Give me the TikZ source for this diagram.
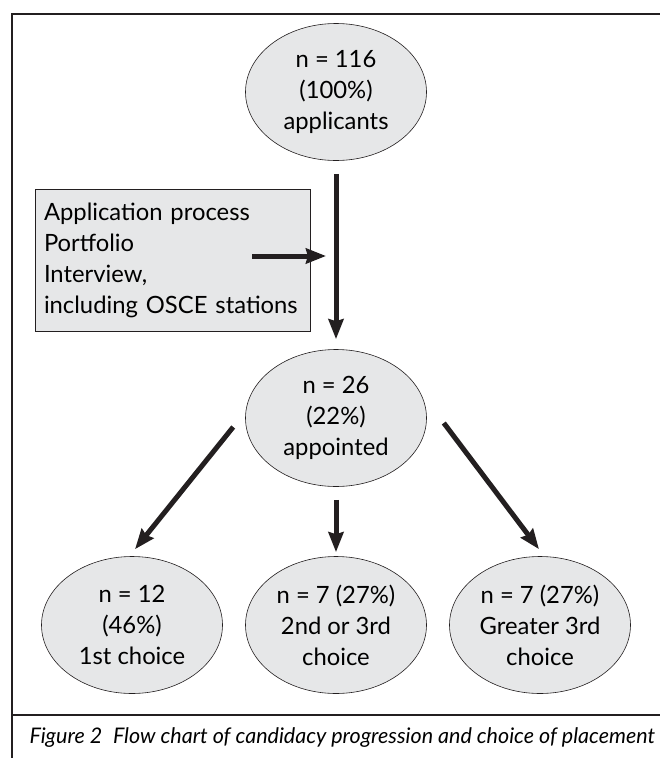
\documentclass[tikz,border=0pt]{standalone}
\usepackage{fontspec}
\setmainfont{Lato}
\usepackage{tikz}
\usetikzlibrary{arrows.meta,positioning,shapes.geometric}
\definecolor{bubble}{HTML}{E6E7E8}
\definecolor{ink}{HTML}{231F20}

\begin{document}
\begin{tikzpicture}[
 x=1pt,y=-1pt,
 font=\fontsize{23.8}{31}\selectfont,
 count/.style={ellipse,draw=ink,line width=0.6pt,fill=bubble,minimum width=181pt,minimum height=137pt,inner xsep=-14pt,inner ysep=0pt,align=center},
 stage/.style={draw=ink,line width=0.8pt,fill=bubble,align=left,text width=257pt,minimum height=142pt,inner xsep=9pt},
 flow/.style={draw=ink,line width=5pt,-{Stealth[length=20pt,width=15pt,inset=2pt]}},
 frame/.style={draw=ink,line width=2pt},
]
\useasboundingbox (0,0) rectangle (660,758);
\draw[frame] (660,14) -- (12,14) -- (12,758);
\draw[ink,line width=1.5pt] (12,715) -- (660,715);
\node[count] (all) at (336,92) {n = 116\\(100\%)\\applicants};
\node[stage] (proc) at (172.5,260) {Application process\\Portfolio\\Interview,\\including OSCE stations};
\node[count] (appt) at (336,418) {n = 26\\(22\%)\\appointed};
\node[count] (first) at (132,625) {n = 12\\(46\%)\\1st choice};
\node[count] (second) at (336,625) {n = 7 (27\%)\\2nd or 3rd\\choice};
\node[count] (third) at (540,625) {n = 7 (27\%)\\Greater 3rd\\choice};
\coordinate (feed) at (252,256);
\draw[flow,shorten <=13pt,shorten >=10pt] (all) -- (appt);
\draw[flow,shorten >=10pt] (feed) -- (feed -| all.south);
\draw[flow] ([shift={(-12,9)}]appt.west) -- ([shift={(3,-7)}]first.north);
\draw[flow,shorten <=13pt,shorten >=4pt] (appt) -- (second);
\draw[flow] ([shift={(17,5)}]appt.east) -- ([shift={(-1,-7)}]third.north);
\node[anchor=west,font=\itshape\fontsize{21.5}{24}\selectfont] (cap) at (26,738) {Figure 2\enspace Flow chart of candidacy progression and choice of placement};
\end{tikzpicture}
\end{document}
